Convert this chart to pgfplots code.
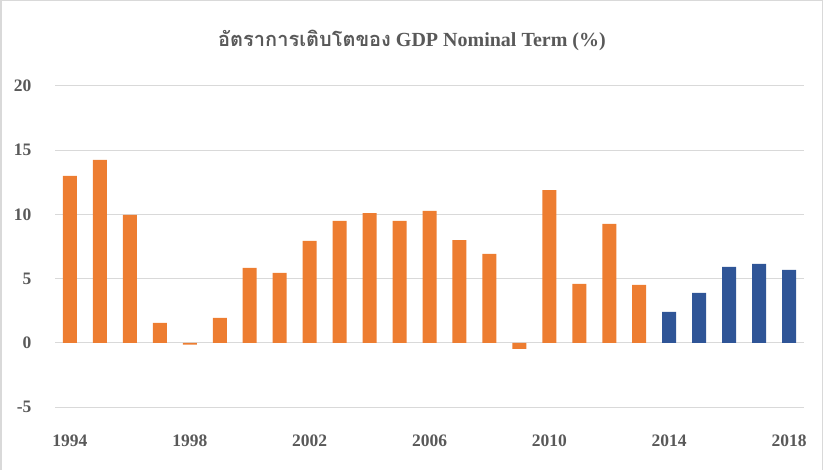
\documentclass[border=0pt]{standalone}
\usepackage{pgfplots}
\pgfplotsset{compat=1.18}
\usepackage{fontspec}
\setmainfont{Liberation Serif}
\newfontfamily\thaifont[Script=Thai]{Loma}
\definecolor{barorange}{HTML}{ED7D31}
\definecolor{barblue}{HTML}{2F5597}
\definecolor{gridgray}{HTML}{D9D9D9}
\definecolor{textgray}{HTML}{595959}
\begin{document}
\begin{tikzpicture}
\path[use as bounding box] (0,0) rectangle (824bp,470bp);
\draw[gridgray, line width=1.2bp] (1bp,0) -- (1bp,469.5bp) -- (822.5bp,469.5bp) -- (822.5bp,0);
\node[text=textgray, font=\fontsize{20bp}{24bp}\selectfont\bfseries] at (412bp,430bp) {{\thaifont อัตราการเติบโตของ} GDP Nominal Term (\%)};
\begin{axis}[
  at={(55bp,63bp)}, anchor=south west,
  scale only axis, width=749bp, height=321bp,
  xmin=-0.5, xmax=24.5, ymin=-5, ymax=20,
  axis line style={draw=none},
  ybar, bar width=14bp, bar shift=0pt,
  ymajorgrids, grid style={gridgray, line width=1bp},
  ytick={-5,0,5,10,15,20},
  xtick={0,4,8,12,16,20,24},
  xticklabels={1994,1998,2002,2006,2010,2014,2018},
  major tick length=0pt,
  tick label style={text=textgray, font=\fontsize{17.5bp}{20bp}\selectfont\bfseries},
  /pgf/number format/assume math mode=true,
  yticklabel style={xshift=-20bp},
  xticklabel style={yshift=-24bp},
  clip=false,
]
\addplot[draw=none, fill=barorange] coordinates {
(0,13.0) (1,14.24) (2,9.96) (3,1.56) (4,-0.15) (5,1.95) (6,5.84) (7,5.45)
(8,7.94) (9,9.49) (10,10.1) (11,9.49) (12,10.27) (13,8.0) (14,6.93)
(15,-0.47) (16,11.9) (17,4.59) (18,9.26) (19,4.51)
};
\addplot[draw=none, fill=barblue] coordinates {
(20,2.41) (21,3.89) (22,5.91) (23,6.15) (24,5.68)
};
\end{axis}
\end{tikzpicture}
\end{document}
